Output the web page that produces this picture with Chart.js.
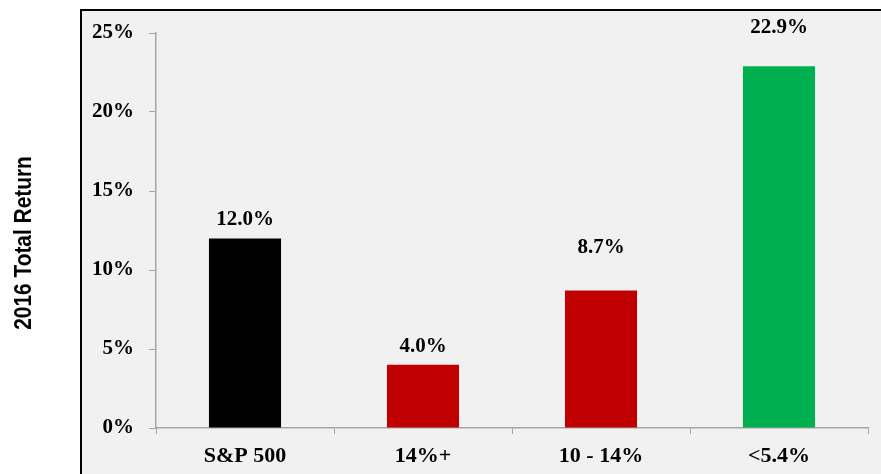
<!DOCTYPE html>
<html>
<head>
<meta charset="utf-8">
<script src="https://cdn.jsdelivr.net/npm/chart.js@4.4.1/dist/chart.umd.min.js"></script>
<style>
  html, body { margin: 0; padding: 0; background: #fff; }
  #wrap { width: 881px; height: 474px; }
</style>
</head>
<body>
<div id="wrap"><canvas id="grafico" width="881" height="474"></canvas></div>
<script>
// Datos del gráfico
const categorias = ['S&P 500', '14%+', '10 - 14%', '<5.4%'];
const rendimientos = [12.0, 4.0, 8.7, 22.9];
const colores = ['#000000', '#c00000', '#c00000', '#00b050'];
const ticksY = [0, 5, 10, 15, 20, 25];
const tituloY = '2016 Total Return';

// distancia entre la etiqueta y la barra (px), como en la imagen
const separacionEtiqueta = [13, 13, 38, 33];

const SERIF = '"Liberation Serif", "Times New Roman", serif';

// Fondo gris con borde negro arriba e izquierda
const fondo = {
  id: 'fondo',
  beforeDraw(chart) {
    const { ctx, width, height } = chart;
    ctx.save();
    ctx.fillStyle = '#ffffff';
    ctx.fillRect(0, 0, width, height);
    ctx.fillStyle = '#f1f1f1';
    ctx.fillRect(81, 10, width - 81, height - 10);
    ctx.strokeStyle = '#000000';
    ctx.lineWidth = 2;
    ctx.beginPath();
    ctx.moveTo(81, height);
    ctx.lineTo(81, 10);
    ctx.lineTo(width, 10);
    ctx.stroke();

    // título del eje Y (letra estrecha: se comprime a lo ancho)
    ctx.translate(24, 243);
    ctx.rotate(-Math.PI / 2);
    ctx.scale(0.87, 1);
    ctx.fillStyle = '#000000';
    ctx.font = 'bold 24px "Liberation Sans Narrow", "Arial Narrow", "Liberation Sans", sans-serif';
    ctx.textAlign = 'center';
    ctx.textBaseline = 'middle';
    ctx.fillText(tituloY, 0, 0);
    ctx.restore();
  }
};

// Etiquetas de valor encima de cada barra
const etiquetas = {
  id: 'etiquetas',
  afterDatasetsDraw(chart) {
    const { ctx } = chart;
    const meta = chart.getDatasetMeta(0);
    ctx.save();
    ctx.fillStyle = '#000000';
    ctx.font = 'bold 21px ' + SERIF;
    ctx.textAlign = 'center';
    ctx.textBaseline = 'alphabetic';
    meta.data.forEach((bar, i) => {
      ctx.fillText(rendimientos[i].toFixed(1) + '%', bar.x, bar.y - separacionEtiqueta[i]);
    });
    ctx.restore();
  }
};

new Chart(document.getElementById('grafico'), {
  type: 'bar',
  data: {
    labels: categorias,
    datasets: [{
      data: rendimientos,
      backgroundColor: colores,
      borderWidth: 0,
      barPercentage: 0.405,
      categoryPercentage: 1
    }]
  },
  options: {
    responsive: false,
    animation: false,
    devicePixelRatio: 1,
    layout: { padding: { left: 0, right: 13, top: 33, bottom: 0 } },
    plugins: {
      legend: { display: false },
      tooltip: { enabled: false }
    },
    scales: {
      x: {
        grid: { drawOnChartArea: false, drawTicks: true, tickLength: 6, color: '#a6a6a6' },
        border: { color: '#a6a6a6', width: 1.5 },
        ticks: { color: '#000000', font: { family: SERIF, size: 22, weight: 'bold' }, padding: 9, maxRotation: 0 },
        afterFit(scale) { scale.height = 46; }
      },
      y: {
        min: 0,
        max: 25,
        afterBuildTicks(scale) { scale.ticks = ticksY.map(v => ({ value: v })); },
        grid: { drawOnChartArea: false, drawTicks: true, tickLength: 7, color: '#a6a6a6' },
        border: { color: '#a6a6a6', width: 1.5 },
        ticks: {
          color: '#000000',
          font: { family: SERIF, size: 21, weight: 'bold' },
          padding: 15,
          callback: v => v + '%'
        },
        afterFit(scale) { scale.width = 156; }
      }
    }
  },
  plugins: [fondo, etiquetas]
});
</script>
</body>
</html>
